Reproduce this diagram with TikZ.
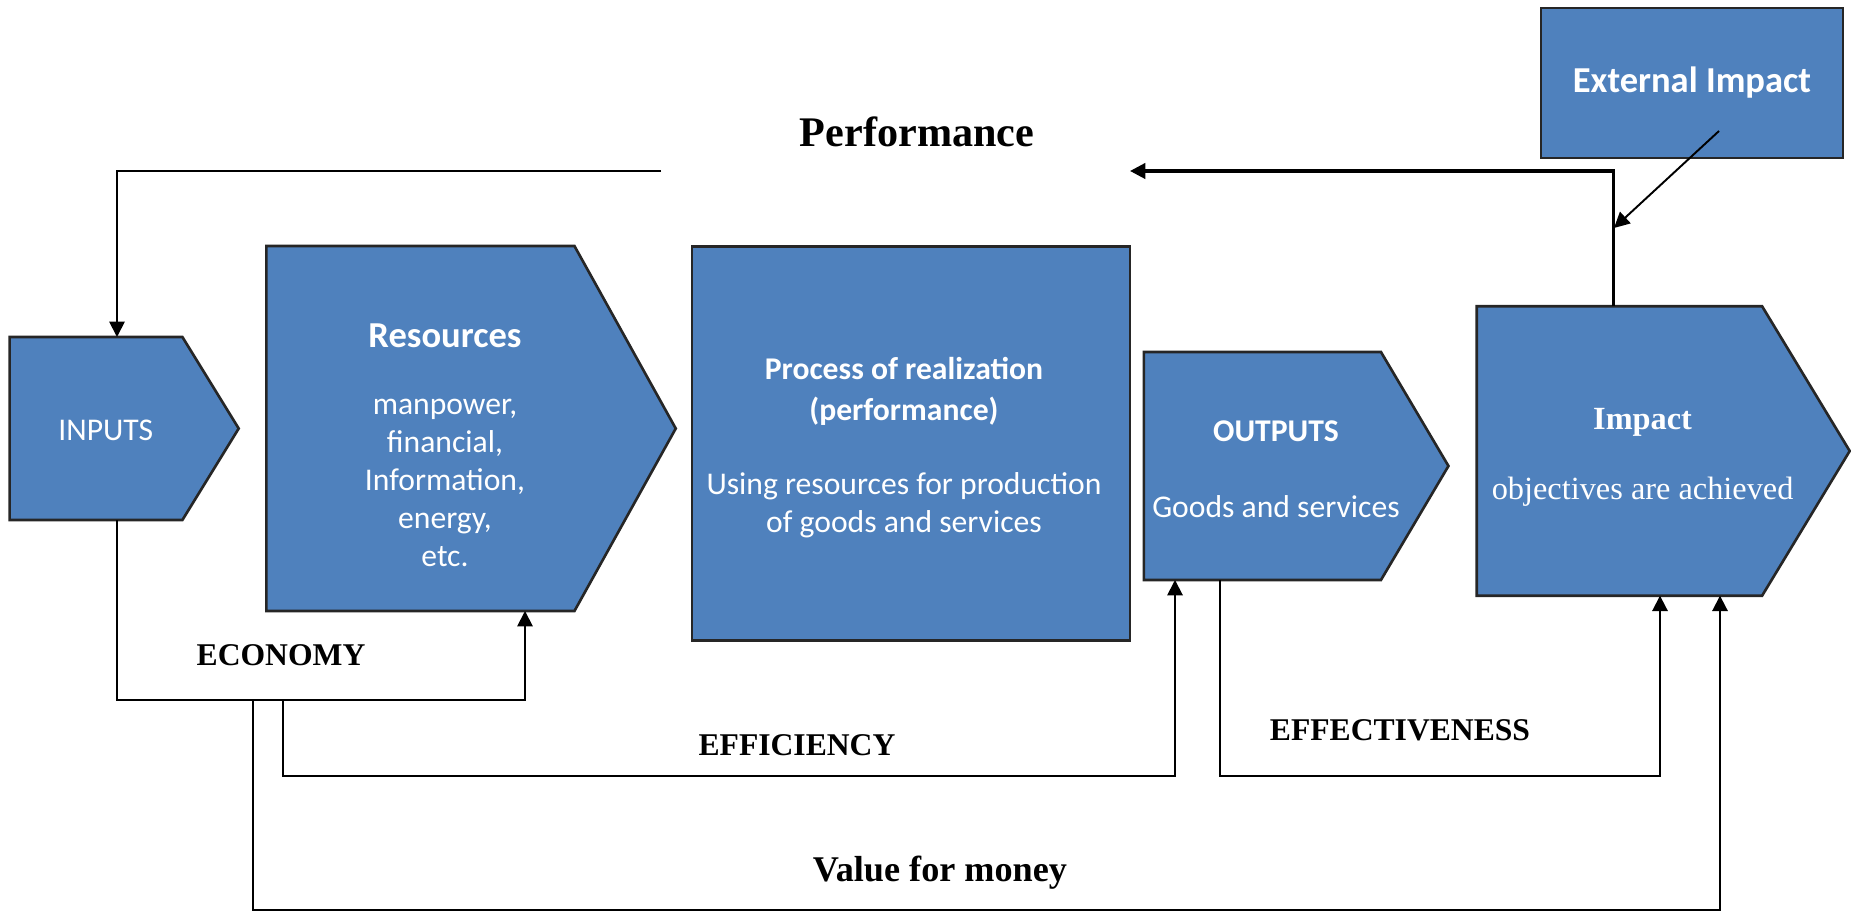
\documentclass[tikz,border=0pt]{standalone}
\usepackage{fontspec}
\setmainfont{Liberation Serif}
\newfontfamily\calibri{Carlito}
\usetikzlibrary{arrows.meta}
\definecolor{boxblue}{HTML}{4F81BD}

\begin{document}
\begin{tikzpicture}[x=0.1mm, y=-0.1mm,
% common options for blocks:
block/.style = {rectangle, inner sep=0},
blockfill/.style = {fill=boxblue, draw=black!85, line width=0.75pt, line join=miter},
% common options for the texts:
intext/.style = {text=white, align=center, inner sep=0, font=\calibri\fontsize{9pt}{10.8pt}\selectfont},
label/.style = {text=black, align=center, inner sep=0, font=\bfseries\fontsize{9pt}{10.8pt}\selectfont},
% common options for the connectors:
link/.style = {line width=0.55pt, -{Triangle[length=4.4pt, width=4.4pt]}}]
\useasboundingbox (0,0) rectangle (1851,912);
\node[block, minimum width=17.14mm, minimum height=18.16mm] (inputs) at (96,428.5) {};
\node[block, minimum width=30.67mm, minimum height=36.36mm] (resources) at (420.4,428.5) {};
\node[block, minimum width=23.57mm, minimum height=22.66mm] (outputs) at (1262.4,466) {};
\node[block, minimum width=28.4mm, minimum height=28.8mm] (impact) at (1619.4,451) {};
\draw[blockfill] (inputs.north west) -- (inputs.north east) -- ([xshift=5.63mm]inputs.east) -- (inputs.south east) -- (inputs.south west) -- cycle;
\draw[blockfill] (resources.north west) -- (resources.north east) -- ([xshift=10.13mm]resources.east) -- (resources.south east) -- (resources.south west) -- cycle;
\draw[blockfill] (outputs.north west) -- (outputs.north east) -- ([xshift=6.75mm]outputs.east) -- (outputs.south east) -- (outputs.south west) -- cycle;
\draw[blockfill] (impact.north west) -- (impact.north east) -- ([xshift=8.76mm]impact.east) -- (impact.south east) -- (impact.south west) -- cycle;
\node[block, blockfill, minimum width=43.82mm, minimum height=39.4mm] (process) at (911,443.7) {};
\node[block, blockfill, intext, minimum width=30.2mm, minimum height=15.02mm, font=\calibri\bfseries\fontsize{10.4pt}{12pt}\selectfont] (ext) at (1692,83) {External Impact};
\node[intext] (inputs-txt) at (105.8,430) {INPUTS};
\node[intext] (resources-txt) at (445,445)
  {{\bfseries\fontsize{10.4pt}{12pt}\selectfont Resources}\\[8.2pt]manpower,\\financial,\\Information,\\energy,\\etc.};
\node[intext] (process-txt) at (904,447.5)
  {{\bfseries Process of realization}\\[1pt]{\bfseries (performance)}\\[10.2pt]Using resources for production\\of goods and services};
\node[intext] (outputs-txt) at (1276,469.4) {{\bfseries OUTPUTS}\\[11pt]Goods and services};
\node[intext, font=\fontsize{9.2pt}{10.8pt}\selectfont] (impact-txt) at (1642.6,457.3)
  {{\bfseries Impact}\\[9.3pt]objectives are achieved};
\node[label, font=\bfseries\fontsize{12pt}{14pt}\selectfont] (perf) at (917,132) {Performance};
\node[label] (econ-txt) at (281,655) {ECONOMY};
\node[label] (effic-txt) at (797,745) {EFFICIENCY};
\node[label] (effect-txt) at (1400,730) {EFFECTIVENESS};
\node[label, font=\bfseries\fontsize{10.3pt}{12pt}\selectfont] (vfm-txt) at (940,873) {Value for money};
% feedback over the top
\coordinate (perf-l) at (661,171);
\coordinate (perf-r) at (1130,171);
\coordinate (ext-hit) at (1614,228);
\draw[link] (perf-l) -| ([xshift=2.1mm]inputs.north);
\draw[link, line width=0.9pt] ([xshift=-0.6mm]impact.north) |- (perf-r);
\draw[link] ([xshift=2.7mm,yshift=-4.8mm]ext.center) -- (ext-hit);
% economy, efficiency, effectiveness
\coordinate (econ) at (525,700);
\coordinate (effic-s) at (283,700);
\coordinate (effic) at (1175,776);
\coordinate (effect) at (1660,776);
\draw[link] ([xshift=2.1mm]inputs.south) |- (econ) -- (econ |- resources.south);
\draw[link] (effic-s) |- (effic) -- (effic |- outputs.south);
\draw[link] ([xshift=-4.2mm]outputs.south) |- (effect) -- (effect |- impact.south);
% value for money
\coordinate (vfm-s) at (253,700);
\coordinate (vfm) at (1720,910);
\draw[link] (vfm-s) |- (vfm) -- (vfm |- impact.south);
\end{tikzpicture}
\end{document}
